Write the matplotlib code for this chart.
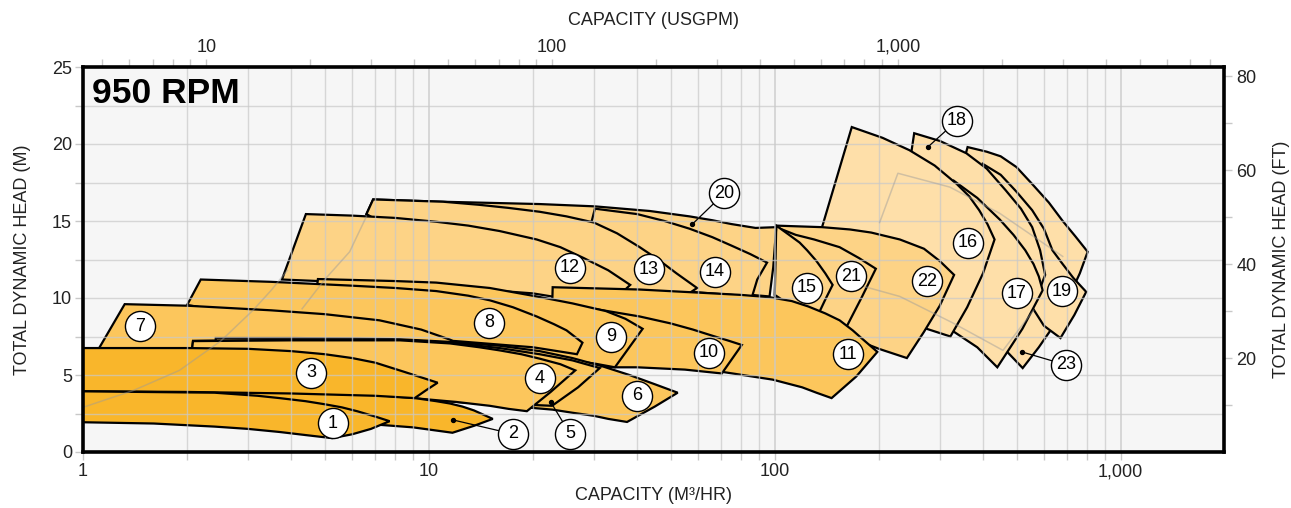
import matplotlib.pyplot as plt
from matplotlib.patches import Polygon
from matplotlib.ticker import FixedLocator, NullFormatter, FuncFormatter

plt.rcParams['font.family'] = ['Liberation Sans', 'DejaVu Sans']

# pump envelopes as (capacity m3/hr, head m), traced clockwise from the top-left corner
pump1 = [(0.9, 3.95), (2.4, 3.85), (3.2, 3.65), (3.7, 3.5), (4.4, 3.3), (5.0, 3.1), (5.6, 2.9), (6.2, 2.65),
         (7.0, 2.3), (7.7, 2.0), (6.8, 1.5), (6.0, 1.15), (5.25, 0.9), (4.4, 1.1), (3.7, 1.3), (3.0, 1.5),
         (2.4, 1.65), (1.6, 1.85), (0.9, 1.95)]
pump2 = [(0.9, 3.95), (4, 3.85), (7, 3.7), (9.1, 3.5), (10.5, 3.3), (11.5, 3.15), (12.5, 2.95), (13.5, 2.7),
         (15.3, 2.15), (13.5, 1.7), (11.7, 1.25), (9, 1.6), (6, 1.9), (3, 2.1), (0.9, 2.2)]
pump3 = [(0.9, 6.75), (2, 6.75), (3, 6.7), (4, 6.55), (5, 6.35), (6, 6.1), (7, 5.8), (8.5, 5.2), (10.6, 4.5),
         (9.8, 4.0), (9.1, 3.5), (7, 3.65), (4, 3.8), (2, 3.9), (0.9, 3.95)]
pump4 = [(2.08, 7.2), (4, 7.25), (8.25, 7.25), (11.5, 7.05), (14, 6.8), (16, 6.6), (18.5, 6.35), (21, 6.05),
         (24, 5.7), (26.5, 5.3), (22.5, 3.9), (19.2, 2.65), (17, 2.8), (15, 3.0), (12, 3.25), (9, 3.5),
         (4, 3.8), (2.0, 3.9)]
pump5 = [(2.08, 7.22), (5, 7.3), (8.25, 7.28), (11.5, 7.1), (16, 6.75), (20.9, 6.35), (26, 5.95), (31.2, 5.45),
         (27, 4.2), (22.7, 3.0), (18, 3.1), (15, 3.2), (9, 3.5), (4, 3.8), (2.0, 3.9)]
pump6 = [(2.42, 7.4), (4, 7.4), (6, 7.38), (8.25, 7.32), (11.5, 7.15), (16, 6.9), (20.9, 6.55), (26, 6.1),
         (31.9, 5.55), (38, 5.0), (45, 4.4), (52.4, 3.85), (45, 2.95), (37.4, 1.95), (33, 2.15), (30, 2.35),
         (26, 2.55), (22.8, 2.75), (15, 3.1), (9, 3.45), (4, 3.75), (2.4, 3.85)]
pump7 = [(1.32, 9.6), (2, 9.5), (3.5, 9.2), (5, 8.95), (7.2, 8.55), (9.5, 7.95), (11.5, 7.3), (12.5, 6.9),
         (10, 5.0), (5, 5.5), (2, 6.3), (1.11, 6.7)]
pump8 = [(2.19, 11.2), (3.5, 11.05), (6, 10.8), (8, 10.65), (10.5, 10.45), (13, 10.15), (15, 9.85), (17.5, 9.4),
         (20.5, 8.8), (23, 8.3), (25, 7.9), (27.8, 7.1), (26.8, 6.35), (20, 6.8), (12, 7.2), (6, 7.6), (2.0, 9.55)]
pump9 = [(4.78, 11.23), (8, 11.1), (10.5, 11.0), (15, 10.65), (20.5, 10.1), (26, 9.65), (32.5, 9.15), (37, 8.65),
         (41.5, 8.0), (34.5, 5.5), (30, 5.75), (25, 6.0), (20.9, 6.3), (15, 6.6), (8, 6.9), (4.5, 7.1)]
pump10 = [(4.78, 11.2), (10.5, 10.9), (20.5, 9.8), (30, 9.3), (40.7, 8.8), (50, 8.35), (58, 7.95), (66, 7.55),
          (73, 7.25), (80.3, 6.95), (70.3, 5.1), (55, 5.35), (40, 5.5), (34.5, 5.5), (20, 5.8), (10, 6.2),
          (4.78, 6.5)]
pump11 = [(22.8, 10.7), (40.7, 10.55), (60, 10.35), (80, 10.2), (96.6, 10.05), (112, 9.8), (125, 9.45),
          (140, 9.0), (154, 8.55), (168, 7.9), (178, 7.4), (198, 6.5), (172, 4.9), (146, 3.5), (132, 3.85),
          (120, 4.2), (98.6, 4.7), (70.6, 5.2), (50, 5.5), (30, 5.7), (22.5, 5.8)]
pump12 = [(4.41, 15.45), (6, 15.35), (8, 15.2), (10.5, 14.95), (13, 14.7), (16, 14.35), (20.5, 13.8),
          (24, 13.3), (28, 12.6), (33, 11.8), (38.2, 10.85), (33, 9.5), (20, 10.3), (10, 10.8), (3.76, 11.2)]
pump13 = [(6.9, 16.4), (11, 16.25), (14, 16.05), (17, 15.85), (20.9, 15.6), (25, 15.3), (30, 14.9), (35, 14.2),
          (40.7, 13.3), (46, 12.5), (52, 11.6), (59.6, 10.65), (50, 9.5), (30, 10.3), (15, 10.8), (6.6, 15.45)]
pump14 = [(30.2, 15.8), (40, 15.45), (48, 15.0), (56.7, 14.5), (66, 13.95), (75, 13.4), (85, 12.85),
          (95, 12.3), (89, 11.2), (86, 10.1), (50, 10.5), (29.5, 14.9)]
pump20 = [(6.9, 16.4), (11, 16.25), (20.9, 16.1), (30.2, 15.95), (43.5, 15.65), (56.7, 15.3), (66, 15.05),
          (75, 14.8), (88, 14.55), (101, 14.6), (99, 12.0), (96.6, 10.1), (60, 10.5), (20, 11.5), (6.6, 15.45)]
pump15 = [(101, 14.7), (110, 14.1), (118, 13.6), (124, 13.1), (132, 12.4), (140, 11.6), (147, 10.85),
          (140, 9.9), (134, 9.0), (110, 9.6), (100, 10.2)]
pump21 = [(101, 14.6), (115, 14.1), (130, 13.8), (154, 13.3), (175, 12.6), (196, 11.9), (178, 10.0),
          (161, 8.1), (120, 8.8), (100, 9.6)]
pump22 = [(101, 14.7), (137, 14.6), (165, 14.45), (190, 14.25), (230, 13.8), (270, 13.2), (300, 12.4),
          (330, 11.5), (300, 9.5), (270, 7.8), (241, 6.1), (200, 6.7), (150, 7.8), (110, 9.0)]
pump16 = [(167, 21.1), (205, 20.4), (245, 19.6), (290, 18.6), (336, 17.4), (365, 16.6), (390, 15.7),
          (412, 14.8), (432, 13.8), (400, 11.6), (360, 9.4), (322, 7.5), (250, 8.3), (180, 10.5), (137, 14.6)]
pump17 = [(330, 17.6), (385, 16.5), (447, 15.1), (490, 14.1), (530, 13.1), (560, 12.2), (580, 11.4),
          (595, 10.5), (520, 8.0), (440, 5.5), (385, 6.8), (330, 7.8), (280, 8.3)]
pump18 = [(253, 20.7), (300, 20.2), (358, 19.4), (410, 18.4), (465, 17.0), (515, 15.8), (555, 14.6),
          (585, 13.1), (605, 11.5), (560, 9.5), (470, 7.5), (330, 10.0), (248, 19.4)]
pump19 = [(400, 18.7), (450, 18.0), (500, 16.9), (555, 15.7), (600, 14.5), (635, 13.1), (680, 12.2),
          (730, 11.3), (795, 10.4), (735, 8.9), (670, 7.4), (600, 8.2), (500, 11.0), (400, 15.0)]
pump23 = [(361, 19.8), (410, 19.5), (450, 19.2), (500, 18.5), (555, 17.4), (620, 16.2), (680, 15.0),
          (740, 14.0), (803, 13.0), (762, 11.6), (700, 9.8), (636, 8.1), (580, 6.8), (521, 5.45), (470, 6.5),
          (400, 10.0), (355, 19.2)]

# faint efficiency traces inside the envelopes
trace_a = [(1.0, 2.9), (1.4, 4.0), (1.9, 5.3), (2.5, 7.2), (3.1, 9.2), (3.5, 10.5), (3.9, 11.8)]
trace_b = [(4.3, 9.3), (5.0, 11.2), (5.9, 13.0), (6.6, 15.3)]
trace_c = [(201, 14.9), (227, 18.1), (321, 17.2), (447, 15.5), (680, 12.7)]
trace_d = [(165, 11.0), (230, 10.1), (326, 8.4), (457, 6.6), (560, 9.2)]
traces = [trace_a, trace_b, trace_c, trace_d]

# back to front
draw_order = ['23', '19', '18', '17', '16', '22', '21', '15', '20', '14', '13', '12',
              '11', '10', '9', '8', '7', '6', '5', '4', '2', '3', '1']
outlines = {'1': pump1, '2': pump2, '3': pump3, '4': pump4, '5': pump5, '6': pump6,
            '7': pump7, '8': pump8, '9': pump9, '10': pump10, '11': pump11, '12': pump12,
            '13': pump13, '14': pump14, '15': pump15, '16': pump16, '17': pump17,
            '18': pump18, '19': pump19, '20': pump20, '21': pump21, '22': pump22, '23': pump23}

dark = ['1', '2', '3']
medium = ['4', '5', '6', '7', '8', '9', '10', '11']
light = ['12', '13', '14', '15', '20', '21', '22']
lightest = ['16', '17', '18', '19', '23']

# label circles
label_names = ['1', '2', '3', '4', '5', '6', '7', '8', '9', '10', '11', '12',
               '13', '14', '15', '16', '17', '18', '19', '20', '21', '22', '23']
label_q = [5.28, 17.5, 4.56, 20.9, 25.6, 39.9, 1.46, 14.9, 33.7, 64.4, 162.7, 25.6,
           43.3, 67.2, 124, 361, 500, 336, 675, 71.5, 166, 276, 697]
label_h = [1.88, 1.17, 5.13, 4.8, 1.17, 3.64, 8.18, 8.38, 7.47, 6.43, 6.36, 11.95,
           11.88, 11.7, 10.65, 13.6, 10.3, 21.5, 10.45, 16.8, 11.4, 11.1, 5.65]

# leader dots for labels that sit outside their envelope
leader_names = ['2', '5', '18', '20', '23']
leader_q = [11.75, 22.5, 277, 57.8, 518]
leader_h = [2.08, 3.25, 19.8, 14.8, 6.5]

x_major = [1, 10, 100, 1000]
x_minor = [m * 10 ** k for k in range(3) for m in range(2, 10)]
gpm_major = [10, 100, 1000]
gpm_minor = [m * 10 ** k for k in range(4) for m in range(2, 10)
             if 4.5 < m * 10 ** k < 8800 and m * 10 ** k not in (10, 100, 1000)]

M3H_TO_GPM = 4.40287
M_TO_FT = 3.28084
TXT = '#222222'
TICK = '#c8c8c8'

fig = plt.figure(figsize=(12.91, 5.08), dpi=100)
ax = fig.add_axes([83 / 1291, 56 / 508, 1141 / 1291, 385 / 508])
ax.set_facecolor('#f6f6f6')
ax.set_xscale('log')
ax.set_xlim(1, 1990)
ax.set_ylim(0, 25)

# grid, drawn only up to 1000 m3/hr
for q in x_major + x_minor:
    ax.plot([q, q], [0, 25], color='#c9c9c9', lw=1.4 if q in x_major else 1.0, zorder=1.5, alpha=0.7)
for h in [2.5 * i for i in range(1, 10)]:
    ax.axhline(h, color='#c9c9c9', lw=1.0, zorder=1.5, alpha=0.7)

colour = {}
for n in dark:
    colour[n] = '#f9b62b'
for n in medium:
    colour[n] = '#fcc65c'
for n in light:
    colour[n] = '#fdd386'
for n in lightest:
    colour[n] = '#fedfa9'

for i, n in enumerate(draw_order):
    poly = Polygon(outlines[n], closed=True, fc=colour[n], ec='black', lw=1.6,
                   joinstyle='miter', zorder=1 + i * 0.01)
    ax.add_patch(poly)

for t in traces:
    ax.plot([p[0] for p in t], [p[1] for p in t], color='#9a9a9a', lw=1.1, alpha=0.45, zorder=1.6)

for n, q, h in zip(leader_names, leader_q, leader_h):
    k = label_names.index(n)
    ax.plot([q, label_q[k]], [h, label_h[k]], color='black', lw=0.9, zorder=3)
    ax.scatter([q], [h], s=8, color='black', zorder=3)

ax.scatter(label_q, label_h, s=470, facecolor='white', edgecolor='black', lw=1.0, zorder=4)
for n, q, h in zip(label_names, label_q, label_h):
    ax.text(q, h, n, ha='center', va='center', fontsize=13, zorder=5)

ax.text(0.008, 0.975, '950 RPM', transform=ax.transAxes, ha='left', va='top',
        fontsize=25.5, fontweight='bold', zorder=6)

ax.xaxis.set_major_locator(FixedLocator(x_major))
ax.xaxis.set_minor_locator(FixedLocator(x_minor))
ax.xaxis.set_major_formatter(FuncFormatter(lambda v, p: f'{v:,.0f}'))
ax.xaxis.set_minor_formatter(NullFormatter())
ax.yaxis.set_major_locator(FixedLocator([0, 5, 10, 15, 20, 25]))
ax.yaxis.set_minor_locator(FixedLocator([2.5, 7.5, 12.5, 17.5, 22.5]))
ax.tick_params(which='both', direction='out', length=6, width=1, color=TICK,
               labelsize=13, labelcolor=TXT, pad=2)

for s in ax.spines.values():
    s.set_linewidth(2.6)
    s.set_zorder(7)

ax.set_xlabel('CAPACITY (M³/HR)', fontsize=13, color=TXT, labelpad=5)
ax.set_ylabel('TOTAL DYNAMIC HEAD (M)', fontsize=13, color=TXT, labelpad=15)

top = ax.secondary_xaxis('top', functions=(lambda q: q * M3H_TO_GPM, lambda g: g / M3H_TO_GPM))
top.xaxis.set_major_locator(FixedLocator(gpm_major))
top.xaxis.set_minor_locator(FixedLocator(gpm_minor))
top.xaxis.set_major_formatter(FuncFormatter(lambda v, p: f'{v:,.0f}'))
top.xaxis.set_minor_formatter(NullFormatter())
top.tick_params(which='both', direction='out', length=6, width=1, color=TICK,
                labelsize=13, labelcolor=TXT, pad=2)
top.set_xlabel('CAPACITY (USGPM)', fontsize=13, color=TXT, labelpad=10)
top.spines['top'].set_visible(False)

right = ax.secondary_yaxis('right', functions=(lambda m: m * M_TO_FT, lambda f: f / M_TO_FT))
right.yaxis.set_major_locator(FixedLocator([20, 40, 60, 80]))
right.yaxis.set_minor_locator(FixedLocator([10, 30, 50, 70]))
right.yaxis.set_minor_formatter(NullFormatter())
right.tick_params(which='both', direction='out', length=6, width=1, color=TICK,
                  labelsize=13, labelcolor=TXT, pad=3)
right.set_ylabel('TOTAL DYNAMIC HEAD (FT)', fontsize=13, color=TXT, labelpad=12)
right.spines['right'].set_visible(False)

fig.savefig('out.png', dpi=100)
